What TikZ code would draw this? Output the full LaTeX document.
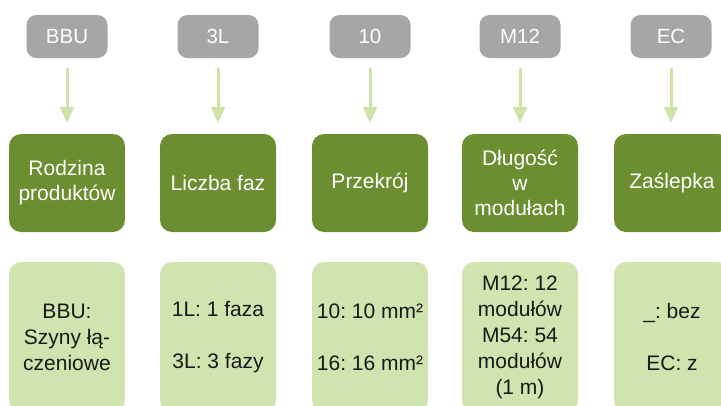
\documentclass[tikz,border=0pt]{standalone}
\usepackage{fontspec}
\setmainfont{Liberation Sans}
\frenchspacing
\usepackage{tikz}
\usetikzlibrary {arrows.meta, positioning}
\definecolor{codegray}{RGB}{166,166,169}
\definecolor{groupgreen}{RGB}{106,142,48}
\definecolor{valuegreen}{RGB}{208,228,176}
\definecolor{arrowgreen}{RGB}{206,227,170}
\pgfmathsetmacro{\colA}{67}
\pgfmathsetmacro{\colB}{218}
\pgfmathsetmacro{\colC}{370}
\pgfmathsetmacro{\colD}{520}
\pgfmathsetmacro{\colE}{671}
\pgfmathsetmacro{\rowcode}{36.5}
\pgfmathsetmacro{\rowgroup}{183}
\pgfmathsetmacro{\rowvalue}{337}

\begin{document}
\begin{tikzpicture}[x = 1pt, y = -1pt,
		codebox/.style = {fill = codegray, text = white, rounded corners = 10pt, minimum width = 81pt, minimum height = 43pt, inner sep = 0pt, font = \fontsize{20.5}{26}\selectfont},
		groupbox/.style = {fill = groupgreen, text = white, rounded corners = 12pt, minimum width = 116pt, minimum height = 98pt, inner sep = 0pt, align = center, font = \fontsize{21}{25}\selectfont},
		valuebox/.style = {fill = valuegreen, text = black!90, rounded corners = 12pt, minimum width = 116pt, minimum height = 150pt, inner sep = 0pt, align = center, font = \fontsize{21}{26}\selectfont},
		link/.style = {line width = 3pt, arrowgreen, arrows = {-Triangle[width = 14pt, length = 16pt]}, shorten <= 10pt, shorten >= 11pt}]
		\useasboundingbox (0, 0) rectangle (721, 405);
		% codes
		\node[codebox] (bbu) at (\colA, \rowcode) {BBU};
		\node[codebox] (faz) at (\colB, \rowcode) {3L};
		\node[codebox] (prz) at (\colC, \rowcode) {10};
		\node[codebox] (mod) at (\colD, \rowcode) {M12};
		\node[codebox] (ec) at (\colE, \rowcode) {EC};
		% groups
		\node[groupbox] (rodzina) at (\colA, \rowgroup) {Rodzina\\produktów};
		\node[groupbox] (liczba) at (\colB, \rowgroup) {Liczba faz};
		\node[groupbox] (przekroj) at (\colC, \rowgroup) {Przekrój};
		\node[groupbox] (dlugosc) at (\colD, \rowgroup) {Długość\\w\\modułach};
		\node[groupbox] (zaslepka) at (\colE + 1, \rowgroup) {Zaślepka};
		% values
		\node[valuebox] (szyny) at (\colA, \rowvalue) {BBU:\\Szyny łą-\\czeniowe};
		\node[valuebox] (fazy) at (\colB, \rowvalue) {1L: 1 faza\\[26pt]3L: 3 fazy};
		\node[valuebox] (mm) at (\colC, \rowvalue) {10: 10 mm²\\[26pt]16: 16 mm²};
		\node[valuebox] (moduly) at (\colD, \rowvalue) {M12: 12\\modułów\\M54: 54\\modułów\\(1 m)};
		\node[valuebox] (bez) at (\colE + 1, \rowvalue) {\_: bez\\[26pt]EC: z};
		% arrows
		\draw[link] (bbu) -- (rodzina);
		\draw[link] (faz) -- (liczba);
		\draw[link] (prz) -- (przekroj);
		\draw[link] (mod) -- (dlugosc);
		\draw[link] (ec) -- (ec |- zaslepka.north);
	\end{tikzpicture}
\end{document}
